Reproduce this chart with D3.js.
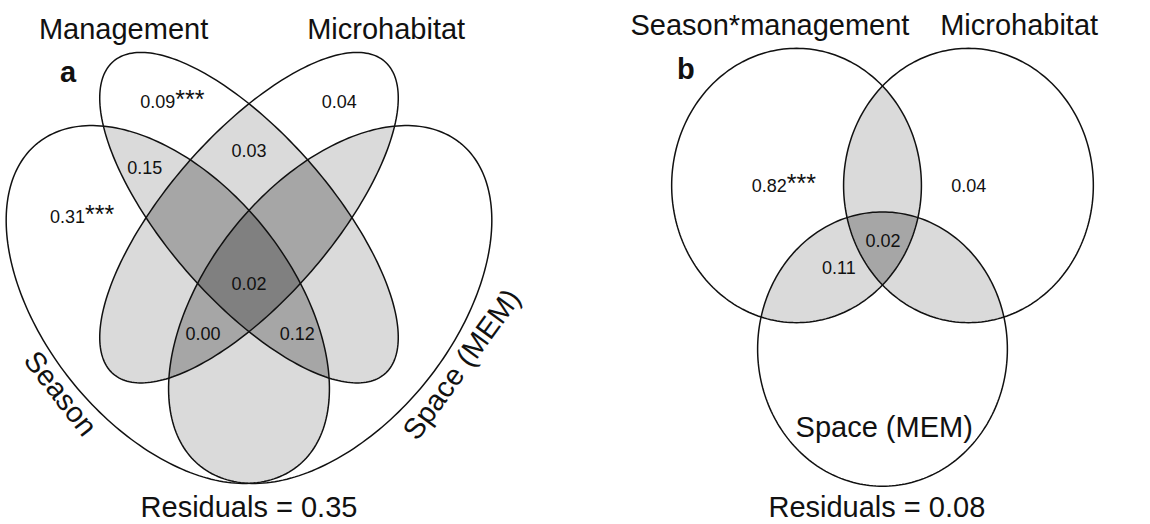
<!DOCTYPE html>
<html>
<head>
<meta charset="utf-8">
<script src="https://cdn.jsdelivr.net/npm/d3@7/dist/d3.min.js"></script>
<style>
  body { margin: 0; background: #fff; }
  text { font-family: "Liberation Sans", Arial, Helvetica, sans-serif; fill: #111; }
</style>
</head>
<body>
<svg id="chart" width="1150" height="524"></svg>
<script>
/**
 * data: variation partitioning, two panels
 */
const setsA = ["Season", "Management", "Microhabitat", "Space (MEM)"];
const valuesA = [0.31, 0.09, 0.04, 0.15, 0.03, 0.02, 0.00, 0.12];
const starsA = ["***", "***", "", "", "", "", "", ""];
const residualA = 0.35;

const setsB = ["Season*management", "Microhabitat", "Space (MEM)"];
const valuesB = [0.82, 0.04, 0.02, 0.11];
const starsB = ["***", "", "", ""];
const residualB = 0.08;

/**
 * layout, in a 0..100 frame for each panel
 */
// ellipses: cx, cy, a, b, rotation (deg, y up)
const shapesA = [
    [35.5, 44, 35, 21, 135],
    [50, 58, 35, 14, 135],
    [50, 58, 35, 14, 45],
    [64.5, 44, 35, 21, 45]
];
const valuePosA = [[20.2, 57.2], [36.3, 75.7], [66.1, 75.7], [31.4, 65.0],
                   [50, 67.8], [50, 46.3], [41.8, 38.3], [58.6, 38.3]];
const setLabelPosA = [[16.4, 29.7, 52], [27.6, 86.8, 0], [74.5, 86.8, 0], [87.9, 34.4, -54]];

const shapesB = [
    [34.65, 60, 22.3, 22.3, 0],
    [65.35, 60, 22.3, 22.3, 0],
    [50, 33.4, 22.3, 22.3, 0]
];
const valuePosB = [[32.4, 58.9], [65.4, 58.9], [50.1, 50.0], [42.2, 45.6]];
const setLabelPosB = [[29.9, 84.5, 0], [74.4, 84.5, 0], [50.3, 19.1, 0]];

const FILLS = {2: "#dadada", 3: "#a6a6a6", 4: "#808080"};
const TITLE_SIZE = 29;
const VALUE_SIZE = 18;
const fmt = d3.format(".2f");

const svg = d3.select("#chart");

function combos(arr, k) {
    if (k === 0) return [[]];
    if (arr.length < k) return [];
    const [h, ...t] = arr;
    return combos(t, k - 1).map(c => [h, ...c]).concat(combos(t, k));
}

function drawPanel(id, opts) {
    const x = d3.scaleLinear().domain([0, 100]).range(opts.xRange);
    const y = d3.scaleLinear().domain([0, 100]).range(opts.yRange);
    const g = svg.append("g").attr("id", id);
    const line = d3.line().curve(d3.curveLinearClosed);

    const paths = opts.shapes.map(([cx, cy, a, b, rot]) => {
        const th = rot * Math.PI / 180;
        const pts = d3.range(240).map(i => {
            const t = i / 240 * 2 * Math.PI;
            const ux = cx + a * Math.cos(t) * Math.cos(th) - b * Math.sin(t) * Math.sin(th);
            const uy = cy + a * Math.cos(t) * Math.sin(th) + b * Math.sin(t) * Math.cos(th);
            return [x(ux), y(uy)];
        });
        return line(pts);
    });

    const defs = g.append("defs");
    paths.forEach((d, i) => {
        defs.append("clipPath").attr("id", `${id}-clip-${i}`)
            .append("path").attr("d", d);
    });

    // overlaps: shade by how many sets share the region
    const idx = d3.range(paths.length);
    for (let k = 2; k <= paths.length; k++) {
        combos(idx, k).forEach(c => {
            let holder = g;
            c.slice(1).forEach(j => {
                holder = holder.append("g").attr("clip-path", `url(#${id}-clip-${j})`);
            });
            holder.append("path").attr("d", paths[c[0]])
                .attr("fill", FILLS[k]).attr("stroke", "none");
        });
    }

    g.selectAll("path.outline")
        .data(paths)
        .enter()
        .append("path")
        .attr("class", "outline")
        .attr("d", d => d)
        .attr("fill", "none")
        .attr("stroke", "#111")
        .attr("stroke-width", 1.5);

    // region values
    const vt = g.selectAll("text.value")
        .data(opts.values)
        .enter()
        .append("text")
        .attr("class", "value")
        .attr("x", (d, i) => x(opts.valuePos[i][0]))
        .attr("y", (d, i) => y(opts.valuePos[i][1]))
        .attr("text-anchor", "middle")
        .attr("font-size", VALUE_SIZE);
    vt.append("tspan").text(d => fmt(d));
    vt.append("tspan").attr("font-size", 25).text((d, i) => opts.stars[i]);

    // set names
    g.selectAll("text.setname")
        .data(opts.sets)
        .enter()
        .append("text")
        .attr("class", "setname")
        .attr("text-anchor", "middle")
        .attr("font-size", TITLE_SIZE)
        .attr("transform", (d, i) => {
            const [px, py, r] = opts.setLabelPos[i];
            return `translate(${x(px)},${y(py)}) rotate(${r})`;
        })
        .attr("dy", (d, i) => opts.setLabelPos[i][2] ? "0.35em" : 0)
        .text(d => d);

    g.append("text")
        .attr("x", x(opts.letterPos[0]))
        .attr("y", y(opts.letterPos[1]))
        .attr("font-size", TITLE_SIZE)
        .attr("font-weight", "bold")
        .text(opts.letter);

    g.append("text")
        .attr("x", x(opts.residualPos[0]))
        .attr("y", y(opts.residualPos[1]))
        .attr("text-anchor", "middle")
        .attr("font-size", TITLE_SIZE)
        .text("Residuals = " + fmt(opts.residual));
}

drawPanel("panelA", {
    xRange: [-31, 529], yRange: [577.3, -42.7],
    shapes: shapesA, sets: setsA, setLabelPos: setLabelPosA,
    values: valuesA, stars: starsA, valuePos: valuePosA,
    letter: "a", letterPos: [16.25, 79.9],
    residual: residualA, residualPos: [50, 9.7]
});

drawPanel("panelB", {
    xRange: [602.5, 1162.5], yRange: [554.5, -60.5],
    shapes: shapesB, sets: setsB, setLabelPos: setLabelPosB,
    values: valuesB, stars: starsB, valuePos: valuePosB,
    letter: "b", letterPos: [13.3, 77.3],
    residual: residualB, residualPos: [49.0, 6.1]
});
</script>
</body>
</html>
